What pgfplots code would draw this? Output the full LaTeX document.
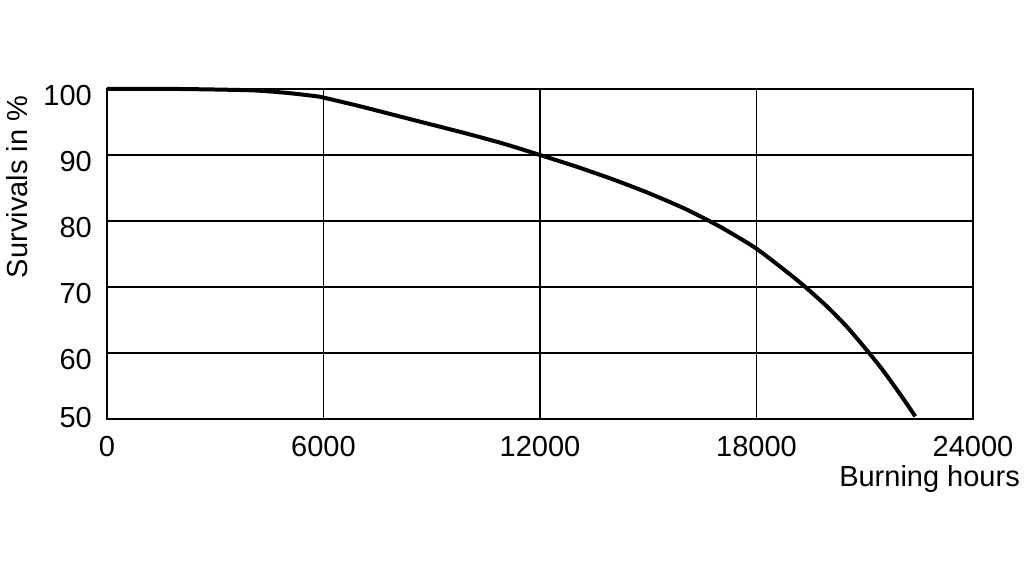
\documentclass[border=0pt]{standalone}
\usepackage{pgfplots}
\pgfplotsset{compat=1.18}
\usepackage{fontspec}
\setmainfont{Liberation Sans}
\begin{document}
\fontsize{29}{34}\selectfont
\begin{tikzpicture}[x=1pt,y=1pt]
\path (0,0) rectangle (1024,577);
\begin{axis}[
  at={(107pt,158pt)}, anchor=south west,
  scale only axis, width=866pt, height=330pt,
  xmin=0, xmax=24000, ymin=50, ymax=100,
  xtick={0,6000,12000,18000,24000},
  ytick={50,60,70,80,90,100},
  yticklabels={\raisebox{8pt}{50},60,70,80,90,100},
  scaled x ticks=false,
  /pgf/number format/assume math mode=true,
  xticklabel={\pgfmathprintnumber[fixed,1000 sep={}]{\tick}},
  major tick length=0pt,
  grid=major,
  major grid style={black, line width=1.1pt},
  axis line style={black, line width=2.8pt},
  tick label style={font=\fontsize{29}{34}\selectfont, inner sep=0pt},
  xticklabel style={anchor=base, yshift=-37.7pt},
  yticklabel style={anchor=base east, xshift=-15pt, yshift=-16.4pt},
  clip=false,
]
\addplot[black, line width=4pt, smooth, tension=0.4] coordinates {
(0,100) (2000,100) (4000,99.8) (5000,99.4) (5800,98.9) (6000,98.7)
(7000,97.4) (8000,96.0) (9000,94.6) (10000,93.2) (11000,91.7) (12000,90.0)
(13000,88.25) (14000,86.35) (15000,84.25) (16000,81.9) (17000,79.1) (18000,75.8)
(19000,71.6) (19500,69.3) (20000,66.8) (20500,64.0) (21000,60.8) (21500,57.4)
(22000,53.6) (22400,50.4)
};
\end{axis}
\node[anchor=base east, inner sep=0pt] at (1020,90) {Burning hours};
\node[rotate=90, anchor=base, inner sep=0pt] at (28,390) {Survivals in \%};
\end{tikzpicture}
\end{document}
